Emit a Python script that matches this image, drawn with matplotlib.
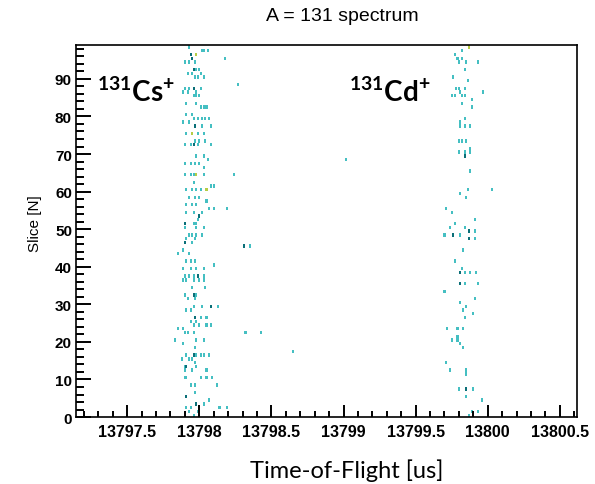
import matplotlib
matplotlib.use("Agg")
import matplotlib.pyplot as plt
from matplotlib.ticker import MultipleLocator, FuncFormatter

# 131Cs+ events: time-of-flight [us], slice, counts in bin
cs_tof = [
    13797.93, 13798.02, 13798.03, 13798.06, 13797.98, 13797.94, 13797.95, 13798.18,
    13797.90, 13797.93, 13797.97, 13797.96, 13797.98, 13798.00, 13797.92, 13797.95,
    13798.01, 13797.97, 13797.99, 13798.03, 13798.27, 13797.90, 13797.93, 13797.96,
    13798.01, 13797.89, 13797.92, 13797.98, 13797.96, 13797.98, 13798.00, 13797.91,
    13797.98, 13798.01, 13798.03, 13798.05, 13797.91, 13797.95, 13797.96, 13797.99,
    13798.02, 13798.04, 13798.07, 13797.89, 13797.93, 13797.97, 13798.02, 13798.08,
    13797.95, 13797.91, 13797.99, 13798.03, 13797.97, 13798.00, 13798.04, 13797.90,
    13797.94, 13797.96, 13797.99, 13798.08, 13797.98, 13798.03, 13798.06, 13797.90,
    13797.94, 13797.97, 13798.00, 13798.03, 13797.90, 13797.94, 13797.96, 13797.98,
    13798.03, 13798.24, 13797.96, 13797.91, 13797.95, 13797.98, 13798.01, 13798.05,
    13798.08, 13798.10, 13797.93, 13797.97, 13798.00, 13798.05, 13797.91, 13797.95,
    13797.98, 13798.07, 13798.10, 13798.19, 13797.91, 13797.96, 13798.02, 13798.00,
    13797.99, 13797.90, 13797.98, 13797.90, 13797.96, 13797.98, 13798.03, 13797.93,
    13797.95, 13797.98, 13798.02, 13797.97, 13797.91, 13797.95, 13797.90, 13797.89,
    13798.31, 13798.35, 13797.85, 13797.93, 13797.91, 13797.94, 13797.97, 13798.10,
    13797.89, 13797.94, 13797.98, 13798.03, 13797.90, 13797.93, 13797.96, 13797.99,
    13798.03, 13797.89, 13797.91, 13797.96, 13798.00, 13798.03, 13797.95, 13798.04,
    13797.90, 13797.96, 13797.98, 13797.92, 13797.97, 13797.96, 13798.02, 13798.08,
    13798.13, 13797.91, 13797.94, 13797.97, 13798.01, 13798.05, 13797.94, 13797.98,
    13798.05, 13798.08, 13797.96, 13798.00, 13797.85, 13797.89, 13797.90, 13797.92,
    13797.96, 13798.32, 13798.43, 13797.83, 13797.98, 13798.03, 13797.89, 13797.97,
    13798.65, 13797.91, 13797.96, 13797.98, 13798.01, 13798.03, 13798.07, 13797.88,
    13797.93, 13797.95, 13797.97, 13797.90, 13797.91, 13797.98, 13798.05, 13797.90,
    13797.95, 13797.90, 13797.91, 13798.01, 13798.05, 13798.09, 13797.94, 13797.97,
    13798.12, 13797.97, 13797.91, 13797.98, 13798.03, 13798.07, 13797.91, 13797.94,
    13798.14, 13798.19, 13797.93, 13797.96, 13797.99,
]
cs_slice = [
    98, 97, 97, 97, 96, 96, 95, 95, 94, 94, 94, 92, 92, 92, 91, 91,
    91, 90, 90, 90, 88, 87, 87, 87, 87, 86, 86, 86, 85, 85, 85, 83,
    83, 82, 82, 82, 80, 80, 79, 79, 79, 79, 79, 78, 78, 77, 77, 77,
    75, 75, 75, 75, 73, 73, 73, 72, 72, 72, 72, 72, 69, 69, 68, 67,
    67, 67, 67, 66, 64, 64, 64, 64, 64, 64, 62, 60, 60, 60, 60, 60,
    61, 61, 58, 58, 58, 57, 56, 56, 56, 55, 55, 55, 54, 54, 54, 53,
    52, 50, 50, 51, 51, 51, 50, 48, 48, 48, 48, 47, 47, 46, 46, 44,
    45, 45, 43, 43, 41, 41, 41, 40, 39, 39, 39, 39, 37, 37, 37, 37,
    37, 36, 36, 36, 36, 36, 34, 34, 32, 32, 32, 31, 31, 29, 29, 29,
    29, 28, 28, 26, 26, 26, 25, 25, 24, 24, 24, 24, 23, 23, 22, 22,
    22, 22, 22, 20, 20, 20, 19, 18, 17, 16, 16, 16, 16, 16, 16, 15,
    15, 15, 14, 13, 13, 13, 12, 12, 12, 10, 10, 10, 10, 10, 8, 8,
    8, 6, 5, 3, 3, 4, 2, 2, 2, 2, 1, 0, 1,
]
cs_count = [
    1, 1, 1, 1, 3, 2, 2, 1, 1, 1, 1, 2, 1, 1, 1, 1,
    1, 1, 1, 1, 1, 1, 1, 2, 1, 1, 1, 1, 1, 1, 1, 1,
    1, 1, 1, 1, 1, 1, 1, 1, 1, 1, 1, 1, 1, 2, 1, 1,
    3, 1, 1, 1, 1, 1, 1, 1, 1, 2, 1, 1, 1, 1, 1, 1,
    1, 1, 1, 1, 1, 1, 1, 3, 1, 1, 1, 1, 1, 1, 1, 3,
    1, 1, 1, 1, 1, 1, 1, 1, 1, 1, 1, 1, 1, 1, 1, 2,
    1, 1, 1, 2, 1, 1, 1, 1, 1, 1, 1, 1, 1, 1, 2, 1,
    2, 1, 1, 1, 1, 1, 1, 1, 1, 1, 1, 1, 1, 1, 1, 2,
    1, 1, 1, 1, 1, 1, 1, 1, 1, 2, 1, 1, 1, 1, 1, 2,
    1, 1, 1, 2, 1, 1, 1, 1, 1, 1, 1, 1, 1, 1, 1, 1,
    1, 1, 1, 1, 1, 1, 1, 1, 1, 1, 2, 1, 1, 1, 1, 1,
    1, 1, 1, 1, 2, 1, 1, 1, 1, 1, 1, 1, 1, 1, 1, 1,
    1, 1, 2, 2, 1, 1, 1, 1, 1, 1, 1, 1, 1,
]

# 131Cd+ events
cd_tof = [
    13799.87, 13799.82, 13799.77, 13799.79, 13799.82, 13799.80, 13799.85, 13799.93,
    13799.84, 13799.76, 13799.86, 13799.78, 13799.80, 13799.84, 13799.97, 13799.81,
    13799.75, 13799.77, 13799.82, 13799.84, 13799.89, 13799.82, 13799.89, 13799.84,
    13799.81, 13799.81, 13799.84, 13799.88, 13799.80, 13799.82, 13799.85, 13799.88,
    13799.88, 13799.80, 13799.84, 13799.84, 13799.02, 13799.88, 13799.86, 13799.81,
    13799.85, 13800.03, 13799.71, 13799.75, 13799.91, 13799.77, 13799.74, 13799.84,
    13799.70, 13799.76, 13799.81, 13799.87, 13799.91, 13799.87, 13799.91, 13799.83,
    13799.77, 13799.82, 13799.81, 13799.84, 13799.88, 13799.92, 13799.81, 13799.84,
    13799.93, 13799.70, 13799.91, 13799.81, 13799.85, 13799.83, 13799.90, 13799.84,
    13799.72, 13799.79, 13799.83, 13799.79, 13799.75, 13799.79, 13799.81, 13799.83,
    13799.71, 13799.74, 13799.85, 13799.85, 13799.80, 13799.85, 13799.90, 13799.85,
    13799.96, 13799.93, 13799.87, 13799.89,
]
cd_slice = [
    98, 97, 96, 95, 95, 94, 94, 94, 92, 90, 89, 87, 87, 87, 86, 86,
    85, 85, 85, 85, 84, 83, 82, 79, 78, 77, 77, 77, 73, 73, 73, 71,
    70, 70, 69, 70, 68, 65, 60, 59, 58, 60, 55, 54, 52, 51, 50, 50,
    48, 48, 48, 49, 49, 47, 47, 44, 41, 39, 38, 38, 38, 38, 35, 35,
    35, 33, 31, 30, 29, 28, 27, 26, 23, 23, 23, 21, 20, 20, 19, 18,
    14, 12, 12, 11, 7, 7, 7, 5, 4, 1, 0, 1,
]
cd_count = [
    3, 1, 1, 1, 1, 1, 1, 1, 1, 1, 1, 1, 1, 1, 1, 1,
    1, 1, 1, 1, 1, 1, 1, 1, 1, 1, 1, 1, 1, 1, 1, 1,
    1, 1, 2, 1, 1, 1, 1, 1, 1, 1, 1, 1, 1, 1, 1, 1,
    1, 2, 1, 2, 1, 2, 1, 1, 1, 1, 2, 1, 1, 1, 2, 1,
    1, 1, 1, 1, 1, 1, 1, 1, 1, 1, 1, 1, 1, 1, 1, 1,
    1, 1, 1, 1, 1, 2, 1, 1, 1, 1, 1, 1,
]

palette = {1: '#45bfc2', 2: '#0b6f78', 3: '#b5cc45'}

fig = plt.figure(figsize=(5.95, 4.85), dpi=100)
ax = fig.add_axes([0.128, 0.138, 0.842, 0.767])

for tof, sl, cnt in [(cs_tof, cs_slice, cs_count), (cd_tof, cd_slice, cd_count)]:
    ax.bar(tof, 0.9, bottom=[s + 0.05 for s in sl], width=0.0145,
           color=[palette[c] for c in cnt], linewidth=0, align='center')

ax.set_xlim(13797.146, 13800.62)
ax.set_ylim(0, 99)

ax.xaxis.set_major_locator(MultipleLocator(0.5))
ax.xaxis.set_minor_locator(MultipleLocator(0.1))
ax.yaxis.set_major_locator(MultipleLocator(10))
ax.yaxis.set_minor_locator(MultipleLocator(2))
ax.xaxis.set_major_formatter(FuncFormatter(lambda v, p: '{:g}'.format(v)))
ax.tick_params(which='both', direction='in', top=False, right=False,
               width=1.4, color='black')
ax.tick_params(axis='x', which='major', length=9, pad=5)
ax.tick_params(axis='x', which='minor', length=4.5)
ax.tick_params(axis='y', which='major', length=10.5, pad=3)
ax.tick_params(axis='y', which='minor', length=5.5)
for lab in ax.get_xticklabels():
    lab.set_fontfamily('Liberation Sans')
    lab.set_fontweight('bold')
    lab.set_fontsize(11.5)
for lab in ax.get_yticklabels():
    lab.set_fontfamily('Liberation Sans')
    lab.set_fontweight('bold')
    lab.set_fontsize(11)
for sp in ax.spines.values():
    sp.set_linewidth(1.2)

fig.text(0.575, 0.965, 'A = 131 spectrum', ha='center', va='center',
         family='Liberation Sans', fontsize=14)
fig.text(0.059, 0.538, 'Slice [N]', rotation=90, ha='center', va='center',
         family='Liberation Sans', fontsize=11)
fig.text(0.583, 0.03, 'Time-of-Flight [us]', ha='center', va='center',
         family='Lato', fontsize=17)

plt.rcParams['mathtext.fontset'] = 'custom'
plt.rcParams['mathtext.rm'] = 'Lato:bold'
plt.rcParams['mathtext.bf'] = 'Lato:bold'
plt.rcParams['mathtext.it'] = 'Lato:bold'
ax.text(13797.29, 84.0, r'$^{\mathbf{131}}$Cs$^{\mathbf{+}}$', family='Lato',
        fontweight='bold', fontsize=20, va='baseline', ha='left')
ax.text(13799.035, 84.2, r'$^{\mathbf{131}}$Cd$^{\mathbf{+}}$', family='Lato',
        fontweight='bold', fontsize=20, va='baseline', ha='left')

fig.savefig('out.png', dpi=100)
